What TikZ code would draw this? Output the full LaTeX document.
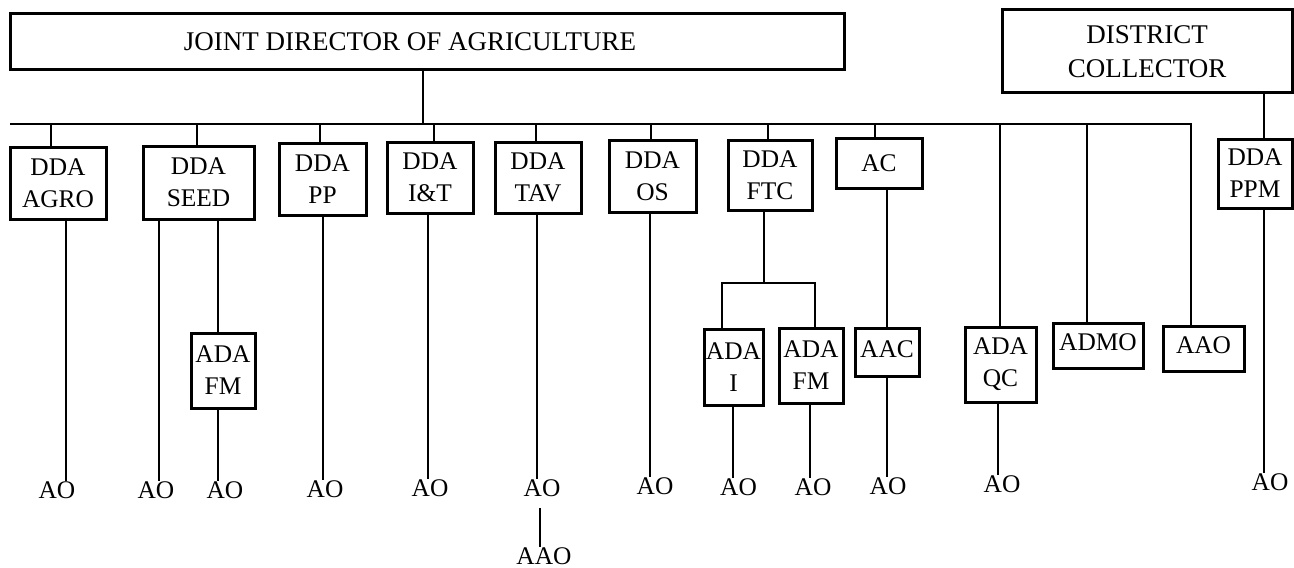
\documentclass[tikz,border=0pt]{standalone}
\usepackage{fontspec}
\setmainfont{Liberation Serif}
\begin{document}
\begin{tikzpicture}[x=0.5pt,y=-0.5pt,
  box/.style={draw, line width=1.5pt, inner sep=0pt, align=center, font=\fontsize{12.7}{16}\selectfont},
  bigbox/.style={box, font=\fontsize{13.5}{16}\selectfont},
  sz/.style 2 args={minimum width=#1*0.5pt, minimum height=#2*0.5pt},
  lbl/.style={inner sep=0pt, font=\fontsize{12.7}{16}\selectfont},
  ln/.style={line width=1.3pt}]
\useasboundingbox (0,0) rectangle (1294,567);
% top level
\node[bigbox, sz={834}{56}] (jda) at (427,42) {\hspace*{-17pt}JOINT DIRECTOR OF AGRICULTURE};
\node[bigbox, sz={290}{83}] (dc) at (1147,51.5) {DISTRICT\\[1pt]COLLECTOR};
% second level
\node[box, sz={96}{72}] (agro) at (58,183) {DDA\\AGRO};
\node[box, sz={111}{73}] (seed) at (198.5,182.5) {DDA\\SEED};
\node[box, sz={87}{72}] (pp) at (322.5,179) {DDA\\PP};
\node[box, sz={86}{71}] (it) at (430,177.5) {DDA\\I\&T};
\node[box, sz={86}{71}] (tav) at (538,177.5) {DDA\\TAV};
\node[box, sz={87}{72}] (os) at (652.5,176) {DDA\\OS};
\node[box, sz={84}{70}] (ftc) at (770,175) {DDA\\FTC};
\node[box, sz={86}{50}] (ac) at (879,163) {AC};
\node[box, sz={74}{69}] (ppm) at (1255,173.5) {DDA\\PPM};
% third level
\node[box, sz={64}{75}] (adafm) at (223,370.5) {ADA\\FM};
\node[box, sz={59}{76}] (adai) at (733.5,367) {ADA\\I};
\node[box, sz={64}{75}] (adafmb) at (811,365.5) {ADA\\FM};
\node[box, sz={64}{48}, text depth=3pt] (aac) at (887,352) {AAC};
\node[box, sz={71}{75}] (qc) at (1000.5,364.5) {ADA\\QC};
\node[box, sz={90}{45}, text depth=3pt] (admo) at (1098,345.5) {ADMO};
\node[box, sz={81}{45}, text depth=3pt] (aaob) at (1203.5,348.5) {AAO};
% AO labels
\node[lbl] (aoA) at (57,490) {AO};
\node[lbl] (aoSa) at (156,490) {AO};
\node[lbl] (aoSb) at (225,490) {AO};
\node[lbl] (aoP) at (325,489) {AO};
\node[lbl] (aoI) at (430,488) {AO};
\node[lbl] (aoT) at (542,488) {AO};
\node[lbl] (aaoT) at (544,556) {AAO};
\node[lbl] (aoO) at (655,486) {AO};
\node[lbl] (aoFa) at (738.5,487) {AO};
\node[lbl] (aoFb) at (813,487) {AO};
\node[lbl] (aoC) at (888,486) {AO};
\node[lbl] (aoQ) at (1002,484) {AO};
\node[lbl] (aoM) at (1270,482) {AO};
% bus
\coordinate (busL) at (10,124);
\coordinate (busR) at (1191,124);
\coordinate (ftcj) at (764,283);
\draw[ln] (423,0 |- jda.south) -- (423,0 |- busL);
\draw[ln] (busL) -- (busR) -- (busR |- aaob.north);
% ticks
\draw[ln] (51,0 |- busL) -- (51,0 |- agro.north);
\draw[ln] (197,0 |- busL) -- (197,0 |- seed.north);
\draw[ln] (320,0 |- busL) -- (320,0 |- pp.north);
\draw[ln] (434,0 |- busL) -- (434,0 |- it.north);
\draw[ln] (536,0 |- busL) -- (536,0 |- tav.north);
\draw[ln] (651,0 |- busL) -- (651,0 |- os.north);
\draw[ln] (768,0 |- busL) -- (768,0 |- ftc.north);
\draw[ln] (875,0 |- busL) -- (875,0 |- ac.north);
\draw[ln] (1000,0 |- busL) -- (1000,0 |- qc.north);
\draw[ln] (1087,0 |- busL) -- (1087,0 |- admo.north);
% district collector
\draw[ln] (1264,0 |- dc.south) -- (1264,0 |- ppm.north);
\draw[ln] (1264,0 |- ppm.south) -- (1264,0 |- aoM.north);
% lower lines
\draw[ln] (66,0 |- agro.south) -- (66,0 |- aoA.north);
\draw[ln] (159,0 |- seed.south) -- (159,0 |- aoSa.north);
\draw[ln] (218,0 |- seed.south) -- (218,0 |- adafm.north);
\draw[ln] (218,0 |- adafm.south) -- (218,0 |- aoSb.north);
\draw[ln] (323,0 |- pp.south) -- (323,0 |- aoP.north);
\draw[ln] (428,0 |- it.south) -- (428,0 |- aoI.north);
\draw[ln] (537,0 |- tav.south) -- (537,0 |- aoT.north);
\draw[ln] (540,0 |- aoT.south) ++(0,11) -- (540,0 |- aaoT.north);
\draw[ln] (650,0 |- os.south) -- (650,0 |- aoO.north);
\draw[ln] (764,0 |- ftc.south) -- (ftcj);
\draw[ln] (722,0 |- adai.north) |- (ftcj) -| (815,0 |- adafmb.north);
\draw[ln] (733,0 |- adai.south) -- (733,0 |- aoFa.north);
\draw[ln] (810,0 |- adafmb.south) -- (810,0 |- aoFb.north);
\draw[ln] (887,0 |- ac.south) -- (887,0 |- aac.north);
\draw[ln] (887,0 |- aac.south) -- (887,0 |- aoC.north);
\draw[ln] (998,0 |- qc.south) -- (998,0 |- aoQ.north);
\end{tikzpicture}
\end{document}
